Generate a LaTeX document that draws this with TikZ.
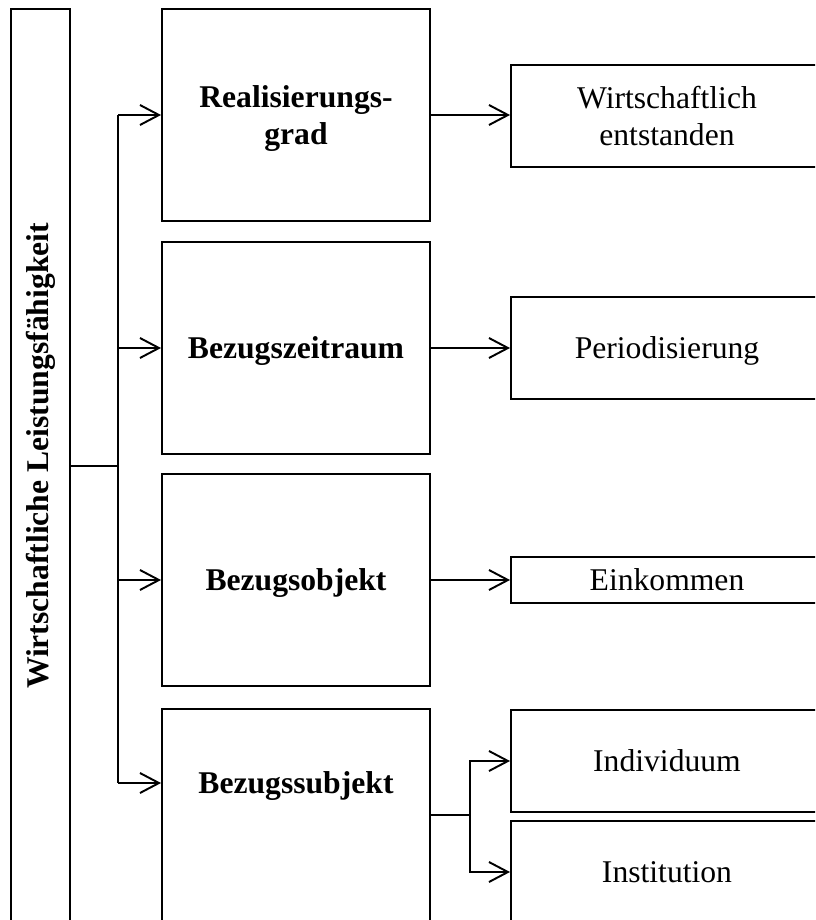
\documentclass[tikz,border=0pt]{standalone}
\usepackage{fontspec}
\setmainfont{Liberation Serif}
\usetikzlibrary{arrows.meta}

\begin{document}
\begin{tikzpicture}[y=-1cm, line width=1.1pt,
  box/.style={draw, rectangle, align=center, inner sep=0pt, text depth=0pt, font=\fontsize{18}{21}\selectfont},
  midbox/.style={box, minimum width=5.36cm, minimum height=4.24cm, font=\fontsize{18}{21}\selectfont\bfseries},
  resbox/.style={box, minimum width=6.24cm, minimum height=2.04cm},
  >={Straight Barb[length=3.8mm,width=4mm]}]
\path[use as bounding box] (0,0) rectangle (16.3,18.4);
\clip (0,0) rectangle (16.3,18.4);
\coordinate (T) at (2.36,0); \coordinate (B) at (9.40,0);
\node[box, minimum width=1.18cm, minimum height=18.28cm] (lbox) at (0.81,9.32)
  {\rotatebox{90}{\hspace*{0.4cm}\bfseries Wirtschaftliche Leistungsfähigkeit}};
\node[midbox] (m1) at (5.92,2.30) {Realisierungs-\\grad};
\node[midbox] (m2) at (5.92,6.96) {Bezugszeitraum};
\node[midbox] (m3) at (5.92,11.60) {Bezugsobjekt};
\node[midbox] (m4) at (5.92,16.30) {};
\node[font=\fontsize{18}{21}\selectfont\bfseries, inner sep=0pt, text depth=0pt] (m4t) at (5.92,15.66) {Bezugssubjekt};
\node[resbox] (r1) at (13.34,2.32) {Wirtschaftlich\\entstanden};
\node[resbox] (r2) at (13.34,6.96) {Periodisierung};
\node[resbox, minimum height=0.92cm] (r3) at (13.34,11.60) {Einkommen};
\node[resbox] (r4) at (13.34,15.22) {Individuum};
\node[resbox] (r5) at (13.34,17.44) {Institution};
\draw (lbox.east) -- (lbox.east -| T);
\draw (m1 -| T) -- (m4t -| T);
\draw[->] (m1 -| T) -- (m1.west);
\draw[->] (m2 -| T) -- (m2.west);
\draw[->] (m3 -| T) -- (m3.west);
\draw[->] (m4t -| T) -- (m4t -| m4.west);
\draw[->] (m1.east) -- (m1.east -| r1.west);
\draw[->] (m2.east) -- (m2.east -| r2.west);
\draw[->] (m3.east) -- (m3.east -| r3.west);
\draw (m4.east) -- (m4.east -| B);
\draw[->] (m4.east -| B) |- (r4.west);
\draw[->] (m4.east -| B) |- (r5.west);
\end{tikzpicture}
\end{document}
